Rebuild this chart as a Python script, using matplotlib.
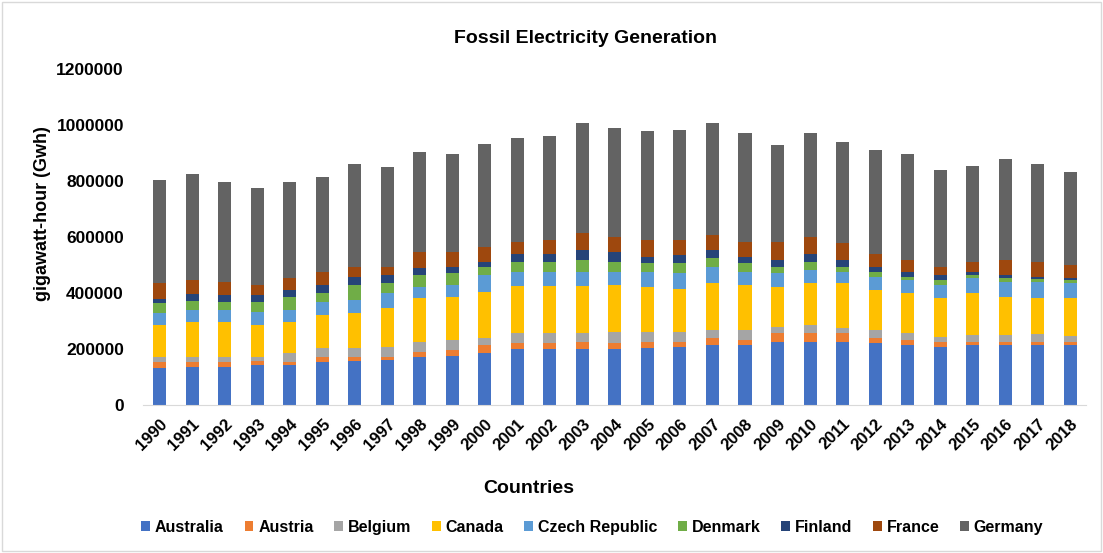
import matplotlib
matplotlib.use("Agg")
import matplotlib.pyplot as plt
import numpy as np
from matplotlib.patches import Rectangle

years = [str(y) for y in range(1990, 2019)]

# values in GWh
australia = [131, 134, 137, 143, 143, 155, 158, 161, 173, 175, 187, 199, 199, 199, 199,
             202, 206, 214, 214, 226, 226, 226, 220, 214, 208, 214, 214, 214, 214]
austria = [24, 21, 18, 15, 12, 18, 15, 12, 17, 21, 27, 21, 21, 27, 21,
           24, 20, 24, 18, 30, 30, 30, 18, 18, 18, 12, 12, 12, 12]
belgium = [18, 18, 18, 15, 29, 29, 29, 35, 36, 36, 24, 36, 36, 30, 42,
           36, 36, 30, 36, 24, 30, 18, 30, 24, 18, 24, 24, 27, 20]
canada = [113, 125, 125, 113, 114, 119, 125, 137, 155, 155, 167, 169, 169, 169, 166,
          160, 154, 166, 160, 142, 148, 160, 143, 143, 137, 149, 137, 128, 135]
czech = [41, 41, 41, 47, 41, 48, 48, 54, 41, 41, 59, 51, 51, 51, 48,
         54, 54, 60, 48, 48, 48, 42, 47, 47, 47, 53, 53, 59, 53]
denmark = [36, 32, 30, 36, 48, 30, 53, 35, 42, 42, 30, 36, 36, 42, 36,
           30, 36, 30, 30, 24, 30, 18, 18, 12, 18, 12, 12, 9, 12]
finland = [15, 24, 24, 24, 24, 29, 30, 30, 24, 24, 18, 29, 29, 35, 35,
           24, 30, 29, 24, 24, 29, 24, 18, 18, 18, 12, 12, 9, 6]
france = [56, 51, 47, 35, 41, 48, 36, 30, 59, 53, 53, 42, 48, 60, 54,
          59, 53, 54, 53, 65, 60, 59, 47, 42, 30, 36, 54, 54, 48]
germany = [369, 380, 357, 346, 345, 339, 367, 357, 358, 348, 366, 369, 373, 395, 387,
           389, 393, 401, 388, 345, 371, 363, 370, 379, 345, 343, 360, 349, 331]

countries = ["Australia", "Austria", "Belgium", "Canada", "Czech Republic",
             "Denmark", "Finland", "France", "Germany"]
series = [australia, austria, belgium, canada, czech, denmark, finland, france, germany]
colors = ["#4472C4", "#ED7D31", "#A5A5A5", "#FFC000", "#5B9BD5",
          "#70AD47", "#264478", "#9E480E", "#636363"]

plt.rcParams["font.family"] = ["Liberation Sans", "DejaVu Sans"]
plt.rcParams["font.weight"] = "bold"

fig = plt.figure(figsize=(11.03, 5.53), dpi=100)
ax = fig.add_axes([0.130, 0.2676, 0.855, 0.6076])

x = np.arange(len(years))
bottom = np.zeros(len(years))
for name, vals, c in zip(countries, series, colors):
    v = np.array(vals) * 1000.0
    ax.bar(x, v, 0.4, bottom=bottom, color=c, label=name)
    bottom += v

ax.set_xlim(-0.5, len(years) - 0.5)
ax.set_ylim(0, 1200000)
ax.set_yticks(np.arange(0, 1200001, 200000))
ax.set_yticklabels([str(v) for v in range(0, 1200001, 200000)], fontsize=12.5, fontweight="bold")
ax.set_xticks(x)
ax.set_xticklabels(years, rotation=45, ha="right", rotation_mode="anchor",
                   fontsize=12, fontweight="bold")
ax.tick_params(axis="y", length=0, pad=14)
ax.tick_params(axis="x", length=0, pad=8)

for s in ["top", "right", "left"]:
    ax.spines[s].set_visible(False)
ax.spines["bottom"].set_color("#D9D9D9")

fig.text(0.531, 0.931, "Fossil Electricity Generation", ha="center", va="center",
         fontsize=14, fontweight="bold")
ax.set_ylabel("gigawatt-hour (Gwh)", fontsize=13, fontweight="bold")
ax.yaxis.set_label_coords(-0.098, 0.57)
fig.text(0.479, 0.117, "Countries", ha="center", va="center",
         fontsize=14, fontweight="bold")

leg = fig.legend(loc="center", bbox_to_anchor=(0.537, 0.047), ncol=9, frameon=False,
                 fontsize=11.5, handlelength=0.55, handleheight=0.55, handletextpad=0.3,
                 columnspacing=1.3)
for t in leg.get_texts():
    t.set_fontweight("bold")

fig.patches.append(Rectangle((0.002, 0.004), 0.996, 0.992, transform=fig.transFigure,
                             fill=False, edgecolor="#D9D9D9", linewidth=1))

fig.savefig("out.png", dpi=100)
